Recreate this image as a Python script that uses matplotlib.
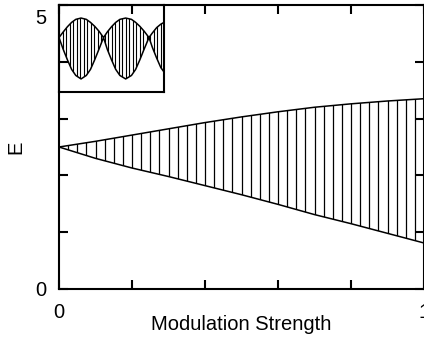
import numpy as np
import matplotlib
matplotlib.use("Agg")
import matplotlib.pyplot as plt
from matplotlib.transforms import ScaledTranslation

plt.rcParams['font.family'] = ['Liberation Sans', 'DejaVu Sans']

# main band: edges
strength = [0.0, 0.1, 0.2, 0.3, 0.4, 0.5, 0.6, 0.7, 0.8, 0.9, 1.0]
e_upper = [2.50, 2.60, 2.71, 2.82, 2.93, 3.03, 3.12, 3.20, 3.26, 3.31, 3.35]
e_lower = [2.50, 2.30, 2.13, 1.98, 1.82, 1.66, 1.49, 1.31, 1.15, 0.98, 0.81]

# inset: band vs. position (arbitrary units)
inset_x = [0.0, 0.04, 0.08, 0.12, 0.16, 0.21, 0.26, 0.30, 0.34, 0.38, 0.424,
           0.46, 0.50, 0.54, 0.58, 0.635, 0.69, 0.73, 0.77, 0.81, 0.857,
           0.89, 0.93, 0.97, 1.0]
inset_upper = [0.626, 0.69, 0.75, 0.80, 0.835, 0.85, 0.835, 0.80, 0.755, 0.70, 0.626,
               0.69, 0.75, 0.80, 0.835, 0.85, 0.835, 0.80, 0.755, 0.70, 0.626,
               0.68, 0.74, 0.78, 0.80]
inset_lower = [0.626, 0.49, 0.37, 0.26, 0.19, 0.15, 0.19, 0.26, 0.37, 0.49, 0.626,
               0.49, 0.37, 0.26, 0.19, 0.15, 0.19, 0.26, 0.37, 0.49, 0.626,
               0.51, 0.39, 0.28, 0.23]

x_ticks = [0, 0.2, 0.4, 0.6, 0.8, 1]
x_labels = ['0', '', '', '', '', '1']
y_ticks = [0, 1, 2, 3, 4, 5]
y_labels = ['0', '', '', '', '', '5']


def hatched_band(ax, x, lo, hi, step, lw):
    ax.plot(x, hi, color='black', lw=1.1)
    ax.plot(x, lo, color='black', lw=1.1)
    band = ax.fill_between(x, lo, hi, facecolor='none', edgecolor='none')
    lines = ax.vlines(np.arange(step, x[-1] + 1e-9, step), min(lo), max(hi),
                      colors='black', lw=lw)
    lines.set_clip_path(band.get_paths()[0], ax.transData)


fig = plt.figure(figsize=(4.24, 3.43), dpi=100)
ax = fig.add_axes([59 / 424, 54 / 343, 365 / 424, 284 / 343])
hatched_band(ax, strength, e_lower, e_upper, 0.025, 0.9)
ax.set_xlim(0, 1)
ax.set_ylim(0, 5)
ax.set_xticks(x_ticks)
ax.set_xticklabels(x_labels)
ax.set_yticks(y_ticks)
ax.set_yticklabels(y_labels)
ax.tick_params(direction='in', length=6.5, width=1.5, top=True, right=True,
               labelsize=14.5)
ax.tick_params(axis='x', pad=10)
ax.tick_params(axis='y', pad=9)
for s in ax.spines.values():
    s.set_linewidth(1.5)
ax.set_xlabel('Modulation Strength', fontsize=14.5, labelpad=-5)
ax.set_ylabel('E', fontsize=14.5, labelpad=7)

# top label "5" sits a bit lower in the original
lab5 = ax.get_yticklabels()[-1]
lab5.set_transform(lab5.get_transform() + ScaledTranslation(0, -12 / 100, fig.dpi_scale_trans))

ins = fig.add_axes([59 / 424, 251 / 343, 105 / 424, 87 / 343])
ins.patch.set_alpha(0)
hatched_band(ins, inset_x, inset_lower, inset_upper, 1 / 30, 0.8)
ins.set_xlim(0, 1)
ins.set_ylim(0, 1)
ins.set_xticks([])
ins.set_yticks([])
for s in ins.spines.values():
    s.set_linewidth(1.5)

fig.savefig('out.png', dpi=100)
